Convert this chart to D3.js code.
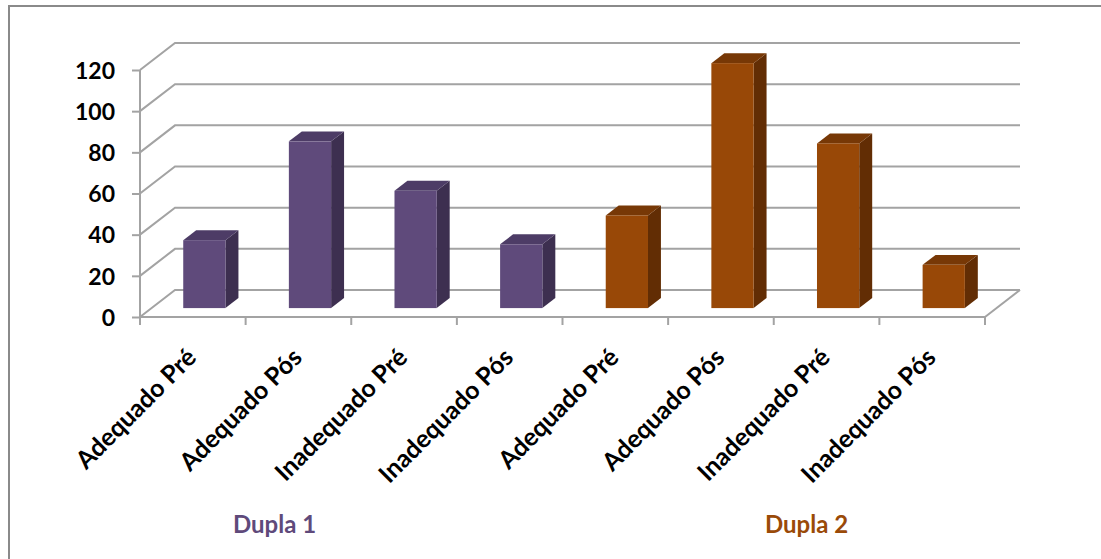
<!DOCTYPE html>
<html lang="pt">
<head>
  <meta charset="UTF-8">
  <title>Dupla 1 / Dupla 2</title>
  <script src="https://d3js.org/d3.v7.min.js"></script>
  <style>
    body { margin:0; background:#fff; }
    svg { display:block; }
    text { font-family: Lato, "Open Sans", sans-serif; font-weight: bold; }
  </style>
</head>
<body>
  <svg width="1101" height="559"></svg>
  <script>
    const categories = ['Adequado Pré', 'Adequado Pós', 'Inadequado Pré', 'Inadequado Pós',
                        'Adequado Pré', 'Adequado Pós', 'Inadequado Pré', 'Inadequado Pós']
    const values = [33, 81, 57, 31, 45, 119, 80, 21]
    const groupOf = [0, 0, 0, 0, 1, 1, 1, 1]
    const groupNames = ['Dupla 1', 'Dupla 2']
    const yTicks = [0, 20, 40, 60, 80, 100, 120]

    const colors = [
      {front: '#5f4a7b', top: '#4d3c66', side: '#3d2f50', text: '#5f4a7b'},
      {front: '#984807', top: '#773806', side: '#622d04', text: '#9a4a08'}
    ]

    const svg = d3.select('svg')
    const grid = '#a3a3a3'

    // front plane of the plot, depth goes up/right
    const plotL = 140, plotR = 985, plotB = 317, plotT = 70
    const depth = {x: 35, y: -27}

    const xScale = d3.scaleBand()
      .domain(d3.range(categories.length))
      .range([plotL, plotR])
    const yScale = d3.scaleLinear()
      .domain([0, 120])
      .range([plotB, plotT])

    const proj = (x, v, f) => [x + f * depth.x, yScale(v) + f * depth.y]
    const pts = arr => arr.map(p => p.join(',')).join(' ')

    // chart frame
    svg.append('rect')
      .attr('x', 9).attr('y', 6)
      .attr('width', 1200).attr('height', 700)
      .attr('fill', 'none').attr('stroke', '#8a8a8a').attr('stroke-width', 2)

    // back wall gridlines + side wall diagonals
    const g = svg.append('g')
    yTicks.forEach(t => {
      g.append('polyline')
        .attr('points', pts([proj(plotL, t, 0), proj(plotL, t, 1), proj(plotR, t, 1)]))
        .attr('fill', 'none').attr('stroke', grid).attr('stroke-width', 2)
    })
    // floor right edge
    const f0 = proj(plotR, 0, 0), f1 = proj(plotR, 0, 1)
    g.append('line')
      .attr('x1', f0[0]).attr('y1', f0[1]).attr('x2', f1[0]).attr('y2', f1[1])
      .attr('stroke', grid).attr('stroke-width', 2)

    // y axis
    const yAxis = d3.axisLeft(yScale).tickValues(yTicks).tickSize(8).tickPadding(17)
    const ya = svg.append('g')
      .attr('transform', 'translate(' + [plotL, 0] + ')')
      .call(yAxis)
    ya.selectAll('line, path').attr('stroke', grid).attr('stroke-width', 2)
    ya.select('.domain').attr('d', 'M0,' + yScale(0) + 'V' + yScale(120))
    ya.selectAll('text')
      .attr('font-size', 23).attr('font-family', 'Lato, sans-serif')
      .attr('font-weight', 'bold').attr('fill', '#000').attr('dy', '0.36em')

    // x axis (front floor edge) with ticks at band boundaries
    const xa = svg.append('g')
    xa.append('line')
      .attr('x1', plotL).attr('x2', plotR).attr('y1', plotB).attr('y2', plotB)
      .attr('stroke', grid).attr('stroke-width', 2)
    const bounds = d3.range(categories.length + 1).map(i => plotL + i * xScale.bandwidth())
    xa.selectAll('.tk').data(bounds).enter().append('line')
      .attr('x1', d => d).attr('x2', d => d)
      .attr('y1', plotB).attr('y2', plotB + 8)
      .attr('stroke', grid).attr('stroke-width', 2)

    // 3D bars
    const bw = xScale.bandwidth() * 0.4
    const d0 = 0.33, d1 = 0.70
    const bars = svg.append('g').selectAll('g')
      .data(values.map((v, i) => ({v, i, c: colors[groupOf[i]]})))
      .enter().append('g')
    bars.each(function (d) {
      const x0 = xScale(d.i) + (xScale.bandwidth() - bw) / 2
      const x1 = x0 + bw
      const sel = d3.select(this)
      // side
      sel.append('polygon')
        .attr('points', pts([proj(x1, 0, d0), proj(x1, 0, d1), proj(x1, d.v, d1), proj(x1, d.v, d0)]))
        .attr('fill', d.c.side)
      // top
      sel.append('polygon')
        .attr('points', pts([proj(x0, d.v, d0), proj(x1, d.v, d0), proj(x1, d.v, d1), proj(x0, d.v, d1)]))
        .attr('fill', d.c.top)
      // front
      const a = proj(x0, d.v, d0), b = proj(x1, 0, d0)
      sel.append('rect')
        .attr('x', a[0]).attr('y', a[1])
        .attr('width', b[0] - a[0]).attr('height', b[1] - a[1])
        .attr('fill', d.c.front)
    })

    // category labels
    svg.append('g').selectAll('text')
      .data(categories)
      .enter().append('text')
      .attr('transform', (d, i) => 'translate(' + [xScale(i) + xScale.bandwidth() / 2 + 5, 359] + ') rotate(-45)')
      .attr('text-anchor', 'end')
      .attr('font-size', 25)
      .attr('fill', '#000')
      .text(d => d)

    // group labels
    const groupX = [233, 765]
    svg.append('g').selectAll('text')
      .data(groupNames)
      .enter().append('text')
      .attr('x', (d, i) => groupX[i])
      .attr('y', 533)
      .attr('font-size', 24)
      .attr('fill', (d, i) => colors[i].text)
      .text(d => d)
  </script>
</body>
</html>
